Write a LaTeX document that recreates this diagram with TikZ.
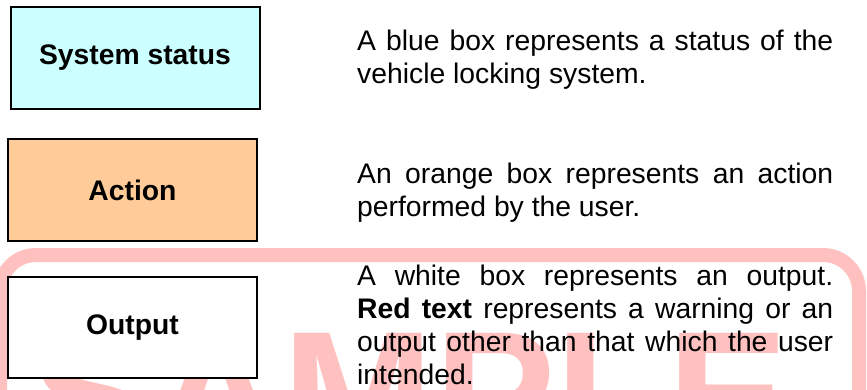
\documentclass[tikz,border=0pt]{standalone}
\usepackage{fontspec}
\setmainfont{Liberation Sans}
\definecolor{statusblue}{HTML}{CCFFFF}
\definecolor{actionorange}{HTML}{FFCC99}
\definecolor{samplepink}{RGB}{255,192,192}
\tikzset{
    keybox/.style={draw, line width=2pt, minimum width=249pt, minimum height=102pt, inner sep=0, font=\fontsize{28.3}{33}\selectfont\bfseries},
    keytext/.style={anchor=north west, text width=476pt, align=justify, inner sep=0, font=\fontsize{28.3}{33}\selectfont}
}
\begin{document}
\begin{tikzpicture}[x=1pt,y=-1pt]
    \useasboundingbox (0,0) rectangle (867,389);
    \clip (0,0) rectangle (867,389);
    \draw [samplepink, line width=14pt, rounded corners=36pt] (0,255) rectangle (859,540);
    \node (sample) at (30,458) [anchor=base west, inner sep=0, text=samplepink, font=\fontsize{182}{182}\selectfont\bfseries] {SAMPLE};
    \node (status) at (135,58) [keybox, fill=statusblue] {System status};
    \node (action) at (132.5,190) [keybox, fill=actionorange] {Action};
    \node (output) at (132.5,327.5) [keybox, fill=white, minimum height=101pt] {Output};
    \node (statustext) at (357,29.5) [keytext] {A blue box represents a status of the\linebreak vehicle locking system.};
    \node (actiontext) at (357,162.5) [keytext] {An orange box represents an action\linebreak performed by the user.};
    \node (outputtext) at (357,264.5) [keytext] {A white box represents an output.\linebreak \textbf{Red text} represents a warning or an\linebreak output other than that which the user\linebreak intended.};
\end{tikzpicture}
\end{document}
